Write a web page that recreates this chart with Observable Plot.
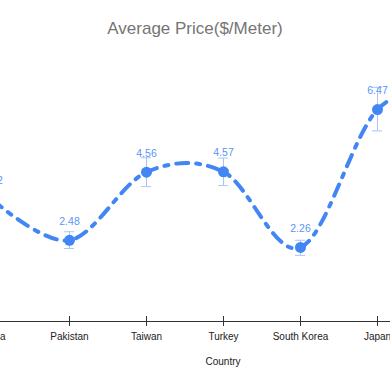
<!DOCTYPE html>
<html>
<head>
<meta charset="utf-8">
<script src="https://cdn.jsdelivr.net/npm/d3@7"></script>
<script src="https://cdn.jsdelivr.net/npm/@observablehq/plot@0.6"></script>
<style>
  html, body { margin: 0; padding: 0; background: #fff; }
  #wrap { position: relative; width: 390px; height: 390px; overflow: hidden; font-family: "Liberation Sans", Arial, sans-serif; }
  #title { position: absolute; left: 0; width: 390px; top: 19px; text-align: center; font-size: 17px; color: #757575; }
  #chart { position: absolute; left: -47.5px; top: 0; width: 539px; height: 390px; }
  #chart svg { max-width: none !important; width: 539px !important; height: 390px !important; }
</style>
</head>
<body>
<div id="wrap">
  <div id="chart"></div>
  <div id="title">Average Price($/Meter)</div>
</div>
<script>
const countries = ["China", "Pakistan", "Taiwan", "Turkey", "South Korea", "Japan", "Italy"];
const prices    = [3.72, 2.48, 4.56, 4.57, 2.26, 6.47, 7.2];
const lows      = [3.42, 2.23, 4.12, 4.15, 2.02, 5.82, 6.6];
const highs     = [4.02, 2.74, 5.00, 4.99, 2.48, 7.15, 7.8];
const labels    = ["3.72", "2.48", "4.56", "4.57", "2.26", "6.47", "7.20"];

const data = countries.map((c, i) => ({country: c, price: prices[i], lo: lows[i], hi: highs[i], label: labels[i]}));

// Smooth curve: interior tangents from neighbours, endpoints with control point at the end point.
function smoothCurve(context) {
  let pts;
  return {
    areaStart() {}, areaEnd() {},
    lineStart() { pts = []; },
    point(x, y) { pts.push([+x, +y]); },
    lineEnd() {
      const n = pts.length;
      if (!n) return;
      const tan = pts.map((p, i) => (i === 0 || i === n - 1) ? [0, 0]
        : [(pts[i + 1][0] - pts[i - 1][0]) / 2, (pts[i + 1][1] - pts[i - 1][1]) / 2]);
      context.moveTo(pts[0][0], pts[0][1]);
      for (let i = 0; i < n - 1; i++) {
        const a = pts[i], b = pts[i + 1];
        context.bezierCurveTo(a[0] + tan[i][0] / 3, a[1] + tan[i][1] / 3,
                              b[0] - tan[i + 1][0] / 3, b[1] - tan[i + 1][1] / 3, b[0], b[1]);
      }
    }
  };
}

const blue = "#4285F4";
const chart = Plot.plot({
  width: 539,
  height: 390,
  marginLeft: 0,
  marginRight: 0,
  marginTop: 59,
  marginBottom: 69,
  style: {fontFamily: "Liberation Sans, Arial, sans-serif", background: "transparent"},
  x: {type: "point", domain: countries, padding: 0.5},
  y: {domain: [0, 8], axis: null},
  marks: [
    Plot.ruleY([0], {stroke: "#333", strokeWidth: 1}),
    Plot.ruleX(countries, {x: d => d, y1: 0, y2: 0, insetTop: -5, insetBottom: -5, stroke: "#333", strokeWidth: 1}),
    Plot.axisX({tickSize: 0, tickPadding: 11, fontSize: 10, fill: "#222", label: null}),
    Plot.text(["Country"], {frameAnchor: "bottom", dy: 43, fontSize: 10, fill: "#222"}),
    Plot.ruleX(data, {x: "country", y1: "lo", y2: "hi", stroke: "#a8c5fa", strokeWidth: 1}),
    Plot.ruleY(data, {y: "lo", x1: "country", x2: "country", insetLeft: -5, insetRight: -5, stroke: "#a8c5fa", strokeWidth: 1}),
    Plot.ruleY(data, {y: "hi", x1: "country", x2: "country", insetLeft: -5, insetRight: -5, stroke: "#a8c5fa", strokeWidth: 1}),
    Plot.line(data, {x: "country", y: "price", curve: smoothCurve, stroke: blue, strokeWidth: 4, strokeDasharray: "12,8,4,8"}),
    Plot.dot(data, {x: "country", y: "price", r: 5.5, fill: blue, stroke: "none"}),
    Plot.text(data, {x: "country", y: "price", text: "label", dy: -19, fontSize: 10.5, fill: "#5b95f5"})
  ]
});
document.getElementById("chart").appendChild(chart);
</script>
</body>
</html>
